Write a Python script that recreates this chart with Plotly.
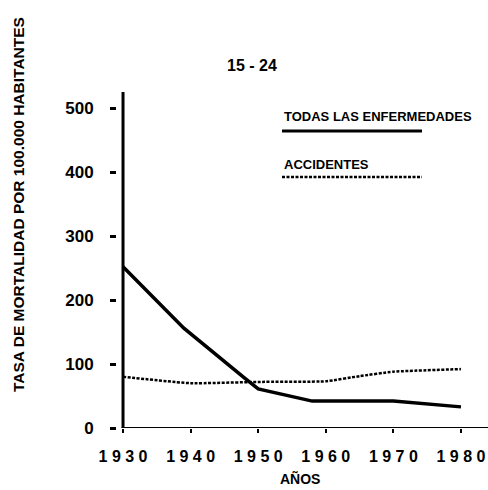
import plotly.graph_objects as go

# Data
years_todas = [1930, 1939, 1948, 1950, 1958, 1970, 1980]
todas = [252, 156, 78, 61, 42, 42, 33]
years_acc = [1930, 1940, 1950, 1960, 1965, 1970, 1980]
accidentes = [80, 70, 72, 73, 81, 88, 92]
x_ticks = [1930, 1940, 1950, 1960, 1970, 1980]
x_ticklabels = ["1 9 3 0", "1 9 4 0", "1 9 5 0", "1 9 6 0", "1 9 7 0", "1 9 8 0"]
y_ticks = [0, 100, 200, 300, 400, 500]

FONT = "Liberation Sans"
W, H = 488, 490
L, R, T, B = 117, 0, 92, 62
pw, ph = W - L - R, H - T - B

def px(x):
    return (x - L) / pw

def py(y):
    return (H - B - y) / ph

fig = go.Figure()
fig.add_trace(go.Scatter(x=years_todas, y=todas, mode="lines",
                         line=dict(color="black", width=3.5), name="TODAS LAS ENFERMEDADES"))
fig.add_trace(go.Scatter(x=years_acc, y=accidentes, mode="lines",
                         line=dict(color="black", width=2.5, dash="3px,1.5px", shape="spline", smoothing=0.4),
                         name="ACCIDENTES"))

shapes = [
    dict(type="line", xref="x", yref="y", x0=1930, x1=1930, y0=-1, y1=525,
         line=dict(color="black", width=3)),
    dict(type="line", xref="x", yref="y", x0=1929.8, x1=1984.5, y0=0, y1=0,
         line=dict(color="black", width=2)),
    dict(type="line", xref="paper", yref="paper", x0=px(282), x1=px(422), y0=py(131), y1=py(131),
         line=dict(color="black", width=3)),
    dict(type="line", xref="paper", yref="paper", x0=px(282), x1=px(422), y0=py(177), y1=py(177),
         line=dict(color="black", width=2.5, dash="3px,1.5px")),
]

def ann(text, x, y, size, xanchor="center", angle=0):
    return dict(text=f"<b>{text}</b>", xref="paper", yref="paper", x=px(x), y=py(y),
                xanchor=xanchor, yanchor="middle", textangle=angle, showarrow=False,
                font=dict(family=FONT, size=size, color="black"))

annotations = [
    ann("15 - 24", 252, 65, 16),
    ann("TASA DE MORTALIDAD POR 100.000 HABITANTES", 18, 205, 15.5, angle=-90),
    ann("AÑOS", 300, 479, 14),
    ann("TODAS LAS ENFERMEDADES", 282, 117, 13, xanchor="left"),
    ann("ACCIDENTES", 282, 164, 13, xanchor="left"),
]

fig.update_layout(
    width=W, height=H,
    margin=dict(l=L, r=R, t=T, b=B),
    paper_bgcolor="white", plot_bgcolor="white",
    showlegend=False,
    shapes=shapes, annotations=annotations,
    xaxis=dict(range=[1929.11, 1984], tickvals=x_ticks, ticktext=x_ticklabels,
               showgrid=False, zeroline=False, showline=False,
               ticks="outside", ticklen=4, tickwidth=2, tickcolor="black",
               ticklabelstandoff=10,
               tickfont=dict(family=FONT, size=16, color="black", weight="bold")),
    yaxis=dict(range=[0, 525], tickvals=y_ticks,
               showgrid=False, zeroline=False, showline=False,
               ticks="outside", ticklen=6, tickwidth=2.5, tickcolor="black",
               ticklabelstandoff=13,
               tickfont=dict(family=FONT, size=17, color="black", weight="bold")),
)

fig.write_html("out.html", config={"displayModeBar": False},
               post_script="document.body.style.margin='0';document.body.style.padding='0';")
